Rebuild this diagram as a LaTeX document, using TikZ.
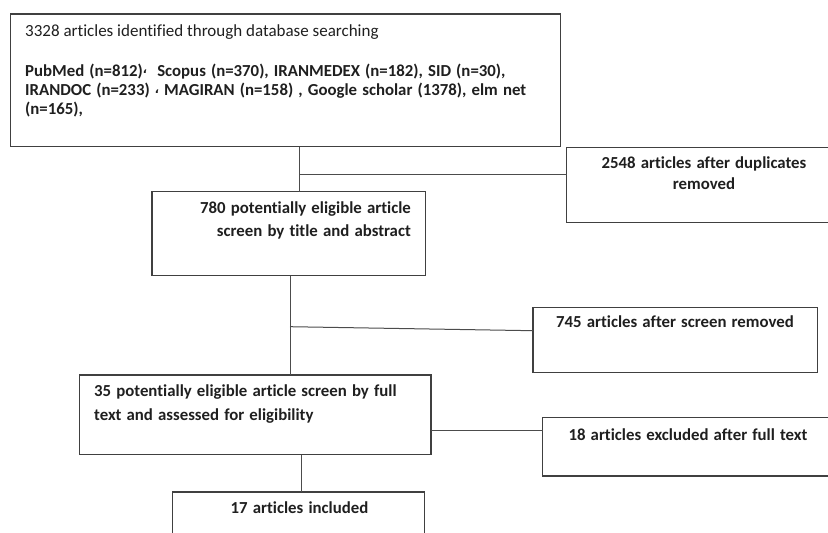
\documentclass[tikz,border=0pt]{standalone}
\usepackage{fontspec}
\setmainfont{Carlito}[Ligatures=NoCommon]
\newfontfamily\widefont{Carlito}[Ligatures=NoCommon, WordSpace=1.35]
\newfontfamily\dejavu{DejaVu Sans}
\newcommand\arcomma{\raisebox{2.5pt}{\fontsize{11}{11}\dejavu ،}}
\begin{document}
\begin{tikzpicture}[x=1pt,y=-1pt,
  box/.style={draw=black!75, line width=1.1pt, inner sep=0pt, outer sep=0pt, anchor=north west},
  link/.style={draw=black!70, line width=1pt},
  txt/.style={inner sep=0pt, text=black!88, font=\fontsize{17}{20}\selectfont},
  btxt/.style={txt, font=\widefont\fontsize{16.8}{20}\selectfont\bfseries}]
\useasboundingbox (0,0) rectangle (828,533);
% boxes
\node[box, minimum width=550pt, minimum height=132.7pt] (b1) at (10.7,14) {};
\node[box, minimum width=273.3pt, minimum height=75pt] (b2548) at (566.7,147.3) {};
\node[box, minimum width=273.7pt, minimum height=84pt] (b780) at (152,191.7) {};
\node[box, minimum width=284.7pt, minimum height=65.4pt] (b745) at (533,307.3) {};
\node[box, minimum width=351.7pt, minimum height=79.7pt] (b35) at (79.3,375) {};
\node[box, minimum width=297.3pt, minimum height=58.3pt] (b18) at (542.7,417.7) {};
\node[box, minimum width=252pt, minimum height=60pt] (b17) at (172.7,492) {};
% texts
\node[txt, anchor=base west] (t1a) at (25,36) {3328 articles identified through database searching};
\node[btxt, anchor=base west] (t1b) at (25,76) {PubMed (n=812)\arcomma\ \ Scopus (n=370), IRANMEDEX (n=182), SID (n=30),};
\node[btxt, anchor=base west] (t1c) at (25,95.5) {IRANDOC (n=233) \arcomma\ MAGIRAN (n=158) , Google scholar (1378), elm net};
\node[btxt, anchor=base west] (t1d) at (25,114) {(n=165),};
\node[btxt, anchor=base] (t2a) at (704,168.3) {2548 articles after duplicates};
\node[btxt, anchor=base] (t2b) at (704,189.3) {removed};
\node[btxt, anchor=base east] (t3a) at (411,213) {780 potentially eligible article};
\node[btxt, anchor=base east] (t3b) at (411,236) {screen by title and abstract};
\node[btxt, anchor=base] (t4) at (675,327.7) {745 articles after screen removed};
\node[btxt, anchor=base west] (t5a) at (94,396.7) {35 potentially eligible article screen by full};
\node[btxt, anchor=base west] (t5b) at (94,420) {text and assessed for eligibility};
\node[btxt, anchor=base] (t6) at (688,440) {18 articles excluded after full text};
\node[btxt, anchor=base] (t7) at (299.5,513.3) {17 articles included};
% connectors
\coordinate (j1) at (299,174);
\draw[link] (b1.south -| j1) -- (b780.north -| j1);
\draw[link] (j1) -- (b2548.west |- j1);
\coordinate (j2) at (290,326.7);
\coordinate (j2e) at (533,330.7);
\draw[link] (b780.south -| j2) -- (b35.north -| j2);
\draw[link] (j2) -- (b745.west |- j2e);
\coordinate (j3) at (431,430);
\draw[link] (b35.east |- j3) -- (b18.west |- j3);
\coordinate (j4) at (301,0);
\draw[link] (b35.south -| j4) -- (b17.north -| j4);
\end{tikzpicture}
\end{document}
